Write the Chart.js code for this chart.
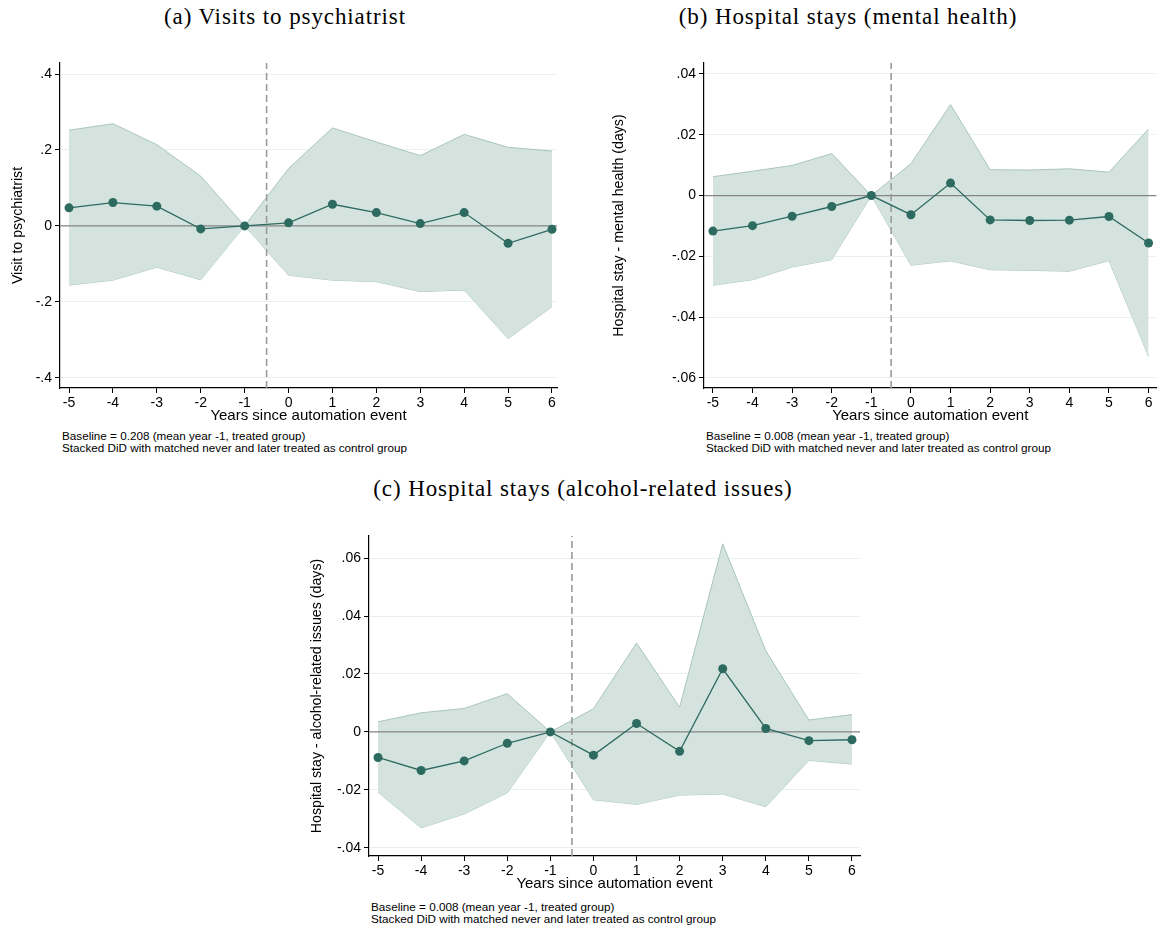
<!DOCTYPE html>
<html>
<head>
<meta charset="utf-8">
<script src="https://cdn.jsdelivr.net/npm/chart.js@4"></script>
<style>
  body { margin: 0; background: #fff; }
  #page { position: relative; width: 1161px; height: 927px; overflow: hidden; }
  canvas { position: absolute; }
  .title { position: absolute; font-family: "Liberation Serif", serif; font-size: 23px; letter-spacing: 0.9px; color: #000; text-align: center; white-space: nowrap; }
  .note { position: absolute; font-family: "Liberation Sans", Arial, sans-serif; font-size: 11.7px; line-height: 12px; color: #000; white-space: nowrap; }
</style>
</head>
<body>
<div id="page">
  <div class="title" style="left:85px; top:4px; width:400px;">(a) Visits to psychiatrist</div>
  <div class="title" style="left:648px; top:4px; width:400px;">(b) Hospital stays (mental health)</div>
  <div class="title" style="left:333px; top:476px; width:500px;">(c) Hospital stays (alcohol-related issues)</div>

  <canvas id="chartA"></canvas>
  <canvas id="chartB"></canvas>
  <canvas id="chartC"></canvas>

  <div class="note" style="left:62px; top:430px;">Baseline = 0.208 (mean year -1, treated group)<br>Stacked DiD with matched never and later treated as control group</div>
  <div class="note" style="left:706px; top:430px;">Baseline = 0.008 (mean year -1, treated group)<br>Stacked DiD with matched never and later treated as control group</div>
  <div class="note" style="left:371px; top:901px;">Baseline = 0.008 (mean year -1, treated group)<br>Stacked DiD with matched never and later treated as control group</div>
</div>

<script>
// years relative to the automation event
const years = [-5, -4, -3, -2, -1, 0, 1, 2, 3, 4, 5, 6];

// (a) visits to psychiatrist
const visitEst = [0.0475, 0.0615, 0.052, -0.008, 0, 0.008, 0.057, 0.035, 0.006, 0.035, -0.046, -0.009];
const visitHi  = [0.252, 0.269, 0.214, 0.131, 0, 0.151, 0.258, 0.221, 0.185, 0.241, 0.207, 0.197];
const visitLo  = [-0.156, -0.143, -0.109, -0.142, 0, -0.130, -0.143, -0.147, -0.173, -0.169, -0.297, -0.213];
const visitTicks  = [-0.4, -0.2, 0, 0.2, 0.4];
const visitLabels = ['-.4', '-.2', '0', '.2', '.4'];

// (b) hospital stays, mental health
const mentalEst = [-0.0117, -0.0099, -0.0068, -0.0036, 0, -0.0063, 0.0041, -0.0080, -0.0082, -0.0081, -0.0069, -0.0156];
const mentalHi  = [0.0062, 0.0080, 0.0099, 0.0138, 0, 0.0105, 0.0299, 0.0085, 0.0084, 0.0088, 0.0077, 0.0219];
const mentalLo  = [-0.0295, -0.0277, -0.0235, -0.0211, 0, -0.0229, -0.0215, -0.0244, -0.0246, -0.0249, -0.0214, -0.0529];
const mentalTicks  = [-0.06, -0.04, -0.02, 0, 0.02, 0.04];
const mentalLabels = ['-.06', '-.04', '-.02', '0', '.02', '.04'];

// (c) hospital stays, alcohol-related issues
const alcoholEst = [-0.0088, -0.0133, -0.0100, -0.0039, 0, -0.0080, 0.0029, -0.0067, 0.0218, 0.0012, -0.0030, -0.0027];
const alcoholHi  = [0.0035, 0.0066, 0.0081, 0.0132, 0, 0.0080, 0.0307, 0.0085, 0.0649, 0.0280, 0.0041, 0.0060];
const alcoholLo  = [-0.0208, -0.0331, -0.0283, -0.0210, 0, -0.0234, -0.0250, -0.0218, -0.0214, -0.0258, -0.0098, -0.0111];
const alcoholTicks  = [-0.04, -0.02, 0, 0.02, 0.04, 0.06];
const alcoholLabels = ['-.04', '-.02', '0', '.02', '.04', '.06'];

const eventLine = -0.5;

const pts = (ys) => years.map((x, i) => ({ x: x, y: ys[i] }));

function makePanel(id, p) {
    const cv = document.getElementById(id);
    cv.width = p.box.w;
    cv.height = p.box.h;
    cv.style.left = p.box.left + 'px';
    cv.style.top = p.box.top + 'px';

    const padTop = p.area.top - p.box.top;
    const padRight = p.box.left + p.box.w - p.area.right;

    return new Chart(cv, {
        type: 'line',
        data: {
            datasets: [
                { // point estimates
                    data: pts(p.est),
                    borderColor: '#2d6b61',
                    borderWidth: 1.3,
                    pointRadius: 4.5,
                    pointBackgroundColor: '#2d6b61',
                    pointBorderWidth: 0,
                    tension: 0,
                    order: 0
                },
                { // event line
                    data: [{ x: eventLine, y: p.yMin }, { x: eventLine, y: p.yMax }],
                    borderColor: '#9a9a9a',
                    borderWidth: 1.6,
                    borderDash: [7, 4],
                    pointRadius: 0,
                    order: 1
                },
                { // zero line
                    data: [{ x: p.xMin, y: 0 }, { x: p.xMax, y: 0 }],
                    borderColor: '#858585',
                    borderWidth: 1.3,
                    pointRadius: 0,
                    order: 2
                },
                { // upper CI
                    data: pts(p.hi),
                    borderColor: '#a8c5bd',
                    borderWidth: 1,
                    backgroundColor: '#d5e3df',
                    pointRadius: 0,
                    fill: '+1',
                    order: 3
                },
                { // lower CI
                    data: pts(p.lo),
                    borderColor: '#a8c5bd',
                    borderWidth: 1,
                    pointRadius: 0,
                    fill: false,
                    order: 4
                }
            ]
        },
        options: {
            responsive: false,
            animation: false,
            layout: { padding: { left: p.padLeft, top: padTop, right: padRight, bottom: 0 } },
            plugins: { legend: { display: false }, tooltip: { enabled: false } },
            scales: {
                x: {
                    type: 'linear',
                    min: p.xMin,
                    max: p.xMax,
                    afterBuildTicks: (s) => { s.ticks = years.map(v => ({ value: v })); },
                    afterFit: (s) => {
                        s.height = p.box.top + p.box.h - p.area.bottom;
                        s.paddingLeft = 0; s.paddingRight = 0;
                    },
                    ticks: {
                        padding: 2,
                        color: '#000',
                        font: { family: 'Liberation Sans', size: 14 },
                        maxRotation: 0,
                        callback: (v) => String(v)
                    },
                    grid: { drawOnChartArea: false, drawTicks: true, tickLength: 5, tickColor: '#000' },
                    border: { color: '#000', width: 1.2 },
                    title: {
                        display: true,
                        text: 'Years since automation event',
                        color: '#000',
                        font: { family: 'Liberation Sans', size: 15 },
                        padding: 0
                    }
                },
                y: {
                    type: 'linear',
                    min: p.yMin,
                    max: p.yMax,
                    afterBuildTicks: (s) => { s.ticks = p.ticks.map(v => ({ value: v })); },
                    afterFit: (s) => {
                        s.width = p.area.left - p.box.left - p.padLeft;
                        s.paddingTop = 0; s.paddingBottom = 0;
                    },
                    ticks: {
                        padding: 3,
                        color: '#000',
                        font: { family: 'Liberation Sans', size: 14 },
                        callback: (v, i) => p.labels[i]
                    },
                    grid: { color: '#e8f0f2', lineWidth: 1, tickLength: 5, tickColor: '#000' },
                    border: { color: '#000', width: 1.2 },
                    title: {
                        display: true,
                        text: p.yTitle,
                        color: '#000',
                        font: { family: 'Liberation Sans', size: 14.2 },
                        padding: 0
                    }
                }
            }
        }
    });
}

makePanel('chartA', {
    box: { left: 0, top: 40, w: 575, h: 385 },
    area: { left: 60, top: 63, right: 557, bottom: 388 },
    padLeft: 10,
    xMin: -5.205, xMax: 6.114,
    yMin: -0.427, yMax: 0.429,
    est: visitEst, hi: visitHi, lo: visitLo,
    ticks: visitTicks, labels: visitLabels,
    yTitle: 'Visit to psychiatrist'
});

makePanel('chartB', {
    box: { left: 600, top: 40, w: 561, h: 385 },
    area: { left: 704, top: 63, right: 1160, bottom: 388 },
    padLeft: 11,
    xMin: -5.225, xMax: 6.2,
    yMin: -0.0633, yMax: 0.0436,
    est: mentalEst, hi: mentalHi, lo: mentalLo,
    ticks: mentalTicks, labels: mentalLabels,
    yTitle: 'Hospital stay - mental health (days)'
});

makePanel('chartC', {
    box: { left: 290, top: 515, w: 580, h: 378 },
    area: { left: 369, top: 536, right: 860, bottom: 856 },
    padLeft: 19,
    xMin: -5.209, xMax: 6.186,
    yMin: -0.0428, yMax: 0.0676,
    est: alcoholEst, hi: alcoholHi, lo: alcoholLo,
    ticks: alcoholTicks, labels: alcoholLabels,
    yTitle: 'Hospital stay - alcohol-related issues (days)'
});
</script>
</body>
</html>
